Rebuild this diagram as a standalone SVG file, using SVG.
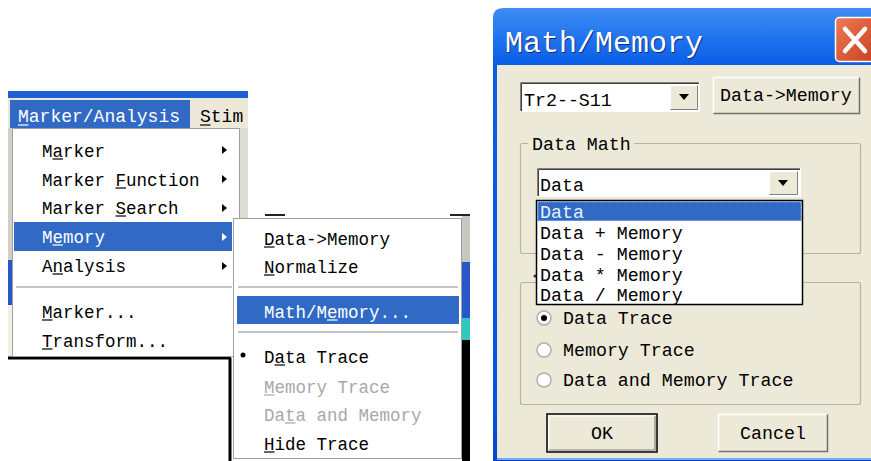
<svg xmlns="http://www.w3.org/2000/svg" width="871" height="461" viewBox="0 0 871 461">
<defs>
<style>
.m{font-family:"Liberation Mono","DejaVu Sans Mono",monospace;font-size:17.5px;fill:#000}
.d{font-family:"Liberation Mono","DejaVu Sans Mono",monospace;font-size:18.3px;fill:#000}
.w{fill:#fff}
.g{fill:#a8a8a8}
.ul{stroke:#000;stroke-width:1.2}
.ulw{stroke:#fff;stroke-width:1.2}
.ulg{stroke:#a8a8a8;stroke-width:1.2}
.hl{fill:#316ac5}
.sep{stroke:#b0b0b0;stroke-width:1.5}
.face{fill:#ece9d8}
.grp{fill:none;stroke:#b4b4a4;stroke-width:1.2}
.rad{fill:#fff;stroke:#b0b0a8;stroke-width:1.5}
</style>
<linearGradient id="tb" x1="0" y1="0" x2="0" y2="1">
<stop offset="0" stop-color="#3d8df5"/>
<stop offset="0.12" stop-color="#0a5fe6"/>
<stop offset="0.85" stop-color="#0054e3"/>
<stop offset="1" stop-color="#0047cc"/>
</linearGradient>
<linearGradient id="cb" x1="0" y1="0" x2="1" y2="1">
<stop offset="0" stop-color="#ee7a55"/>
<stop offset="1" stop-color="#c8401e"/>
</linearGradient>
<polygon id="arr" points="0,-4 5,0 0,4"/>
<polygon id="tri" points="-5,-3 5,-3 0,3"/>
</defs>

<rect width="871" height="461" fill="#fff"/>

<!-- background of left screenshot -->
<g id="bg-left">
<rect x="8" y="91" width="240" height="7" fill="#1f5fd6"/>
<rect x="8" y="98" width="240" height="30" fill="#ece9d8"/>
<rect x="8" y="128" width="4" height="132" fill="#d0d0c8"/>
<rect x="8" y="260" width="4" height="45" fill="#2858c8"/>
<rect x="8" y="305" width="4" height="52" fill="#f0f0e0"/>
<rect x="240" y="128" width="8" height="90" fill="#dcdcd4"/>
<line x1="8" y1="358" x2="231" y2="358" stroke="#000" stroke-width="3"/>
<line x1="230" y1="358" x2="230" y2="461" stroke="#000" stroke-width="3"/>
<line x1="265" y1="215" x2="285" y2="215" stroke="#222" stroke-width="2"/>
<line x1="450" y1="215" x2="470" y2="215" stroke="#222" stroke-width="2"/>
<rect x="462" y="216" width="8" height="46" fill="#c8c8c0"/>
<rect x="462" y="262" width="8" height="56" fill="#2858c8"/>
<rect x="462" y="318" width="8" height="22" fill="#30c8c0"/>
<rect x="462" y="340" width="8" height="121" fill="#000"/>
</g>

<g id="menubar">
<rect x="10" y="100" width="180" height="28" class="hl"/>
<text x="18" y="122" class="m w" style="font-size:18px">Marker/Analysis</text>
<line x1="18" y1="125" x2="28.5" y2="125" class="ulw"/>
<text x="200" y="122" class="m" style="font-size:18px">Stim</text>
<line x1="200" y1="125" x2="210.5" y2="125" class="ul"/>
</g>

<g id="menu-marker-analysis">
<rect x="12.5" y="128.5" width="227" height="228" fill="#fff" stroke="#a0a0a0"/>
<rect x="14" y="222" width="218" height="29" class="hl"/>
<text x="42" y="157" class="m">Marker</text>
<line x1="52.5" y1="159" x2="63" y2="159" class="ul"/>
<use href="#arr" x="222" y="150"/>
<text x="42" y="186" class="m">Marker Function</text>
<line x1="115.5" y1="188" x2="126" y2="188" class="ul"/>
<use href="#arr" x="222" y="179"/>
<text x="42" y="214" class="m">Marker Search</text>
<line x1="115.5" y1="216" x2="126" y2="216" class="ul"/>
<use href="#arr" x="222" y="208"/>
<text x="42" y="243" class="m w">Memory</text>
<line x1="52.5" y1="245" x2="63" y2="245" class="ulw"/>
<use href="#arr" x="222" y="237" fill="#fff"/>
<text x="42" y="272" class="m">Analysis</text>
<line x1="52.5" y1="274" x2="63" y2="274" class="ul"/>
<use href="#arr" x="222" y="266"/>
<line x1="16" y1="287" x2="232" y2="287" class="sep"/>
<text x="42" y="318" class="m">Marker...</text>
<line x1="42" y1="320" x2="52.5" y2="320" class="ul"/>
<text x="42" y="347" class="m">Transform...</text>
<line x1="42" y1="349" x2="52.5" y2="349" class="ul"/>
</g>

<g id="menu-memory">
<rect x="233.5" y="218.5" width="228" height="240" fill="#fff" stroke="#a0a0a0"/>
<text x="264" y="245" class="m">Data-&gt;Memory</text>
<line x1="264" y1="247" x2="274.5" y2="247" class="ul"/>
<text x="264" y="273" class="m">Normalize</text>
<line x1="264" y1="275" x2="274.5" y2="275" class="ul"/>
<line x1="238" y1="287" x2="458" y2="287" class="sep"/>
<rect x="237" y="296" width="222" height="28" class="hl"/>
<text x="264" y="318" class="m w">Math/Memory...</text>
<line x1="327" y1="320" x2="337.5" y2="320" class="ulw"/>
<line x1="238" y1="332" x2="458" y2="332" class="sep"/>
<circle cx="243" cy="355" r="2.5" fill="#000"/>
<text x="264" y="363" class="m">Data Trace</text>
<line x1="274.5" y1="365" x2="285" y2="365" class="ul"/>
<text x="264" y="393" class="m g">Memory Trace</text>
<line x1="264" y1="395" x2="274.5" y2="395" class="ulg"/>
<text x="264" y="421" class="m g">Data and Memory</text>
<line x1="285" y1="423" x2="295.5" y2="423" class="ulg"/>
<text x="264" y="450" class="m">Hide Trace</text>
<line x1="264" y1="452" x2="274.5" y2="452" class="ul"/>
</g>

<g id="dialog-math-memory">
<path d="M493,461 V18 Q493,8 503,8 H871 V461 Z" fill="url(#tb)"/>
<rect x="497" y="65" width="374" height="393" class="face"/>
<line x1="497" y1="459" x2="871" y2="459" stroke="#7aa8e8" stroke-width="2"/>
<text x="506" y="53" class="d" style="font-size:30px;fill:#0a2a80">Math/Memory</text>
<text x="505" y="52" class="d w" style="font-size:30px">Math/Memory</text>
<g id="close-button">
<rect x="835.5" y="17.5" width="42" height="44" rx="4" fill="url(#cb)" stroke="#fff" stroke-width="1.5"/>
<path d="M845,29 L865,51 M865,29 L845,51" stroke="#fff" stroke-width="4.5" stroke-linecap="round"/>
</g>
</g>

<g id="combo-trace">
<rect x="520" y="82" width="180" height="30" fill="#fff"/>
<path d="M520.5,112 V82.5 H700" fill="none" stroke="#808080"/>
<path d="M521.5,111 V83.5 H699" fill="none" stroke="#404040"/>
<path d="M520,111.5 H699.5 V82" fill="none" stroke="#fff"/>
<rect x="670" y="85" width="28" height="25" class="face"/>
<path d="M670.5,109.5 V85.5 H697.5" fill="none" stroke="#fff"/>
<path d="M670.5,109.5 H697.5 V85.5" fill="none" stroke="#808080"/>
<use href="#tri" x="684" y="97"/>
<text x="524" y="106" class="d">Tr2--S11</text>
</g>

<g id="btn-data-memory">
<rect x="713" y="77" width="147" height="37" class="face"/>
<path d="M713.5,113.5 V77.5 H859.5" fill="none" stroke="#fff" stroke-width="1.5"/>
<path d="M713.5,113.5 H859.5 V77.5" fill="none" stroke="#707070" stroke-width="1.5"/>
<text x="720" y="101" class="d">Data-&gt;Memory</text>
</g>

<g id="group-data-math">
<rect x="520.5" y="143.5" width="340" height="110" rx="2" class="grp"/>
<rect x="528" y="134" width="106" height="18" class="face"/>
<text x="532" y="150" class="d">Data Math</text>
</g>

<g id="combo-data">
<rect x="537" y="168" width="264" height="29" fill="#fff"/>
<path d="M537.5,197 V168.5 H801" fill="none" stroke="#808080"/>
<path d="M538.5,196 V169.5 H800" fill="none" stroke="#404040"/>
<path d="M537,196.5 H800.5 V168" fill="none" stroke="#fff"/>
<rect x="769" y="171" width="29" height="24" class="face"/>
<path d="M769.5,194.5 V171.5 H797.5" fill="none" stroke="#fff"/>
<path d="M769.5,194.5 H797.5 V171.5" fill="none" stroke="#808080"/>
<use href="#tri" x="783" y="183"/>
<text x="540" y="191" class="d">Data</text>
</g>

<g id="group-display">
<rect x="520.5" y="282.5" width="340" height="122" rx="2" class="grp"/>
<circle cx="535" cy="276" r="1.5" fill="#333"/>
<g id="radio-data-trace">
<circle cx="544" cy="318" r="7" class="rad"/>
<circle cx="544" cy="318" r="3" fill="#000"/>
<text x="563" y="324" class="d">Data Trace</text>
</g>
<g id="radio-memory-trace">
<circle cx="544" cy="350" r="7" class="rad"/>
<text x="563" y="356" class="d">Memory Trace</text>
</g>
<g id="radio-data-memory-trace">
<circle cx="544" cy="380" r="7" class="rad"/>
<text x="563" y="386" class="d">Data and Memory Trace</text>
</g>
</g>

<g id="list-data-math">
<rect x="536.5" y="200.5" width="266" height="104" fill="#fff" stroke="#000" stroke-width="1.5"/>
<rect x="537.5" y="201.5" width="264" height="19.5" class="hl"/>
<rect x="538" y="202" width="263" height="18.5" fill="none" stroke="#a0b8e8" stroke-dasharray="1 1"/>
<text x="540" y="218" class="d" style="fill:#e8f0ff">Data</text>
<text x="540" y="239" class="d">Data + Memory</text>
<text x="540" y="260" class="d">Data - Memory</text>
<text x="540" y="281" class="d">Data * Memory</text>
<text x="540" y="301" class="d">Data / Memory</text>
</g>

<g id="btn-ok">
<rect x="547" y="414" width="110" height="38" class="face" stroke="#000" stroke-width="1.5"/>
<path d="M549,450 V416 H655" fill="none" stroke="#fff" stroke-width="1.2"/>
<path d="M549,450 H655 V416" fill="none" stroke="#808080" stroke-width="1.2"/>
<text x="602" y="439" class="d" text-anchor="middle">OK</text>
</g>

<g id="btn-cancel">
<rect x="718" y="414" width="110" height="38" class="face"/>
<path d="M718.5,451.5 V414.5 H827.5" fill="none" stroke="#fff" stroke-width="1.5"/>
<path d="M718.5,451.5 H827.5 V414.5" fill="none" stroke="#707070" stroke-width="1.5"/>
<text x="773" y="439" class="d" text-anchor="middle">Cancel</text>
</g>

<g id="connectors"></g>
</svg>
